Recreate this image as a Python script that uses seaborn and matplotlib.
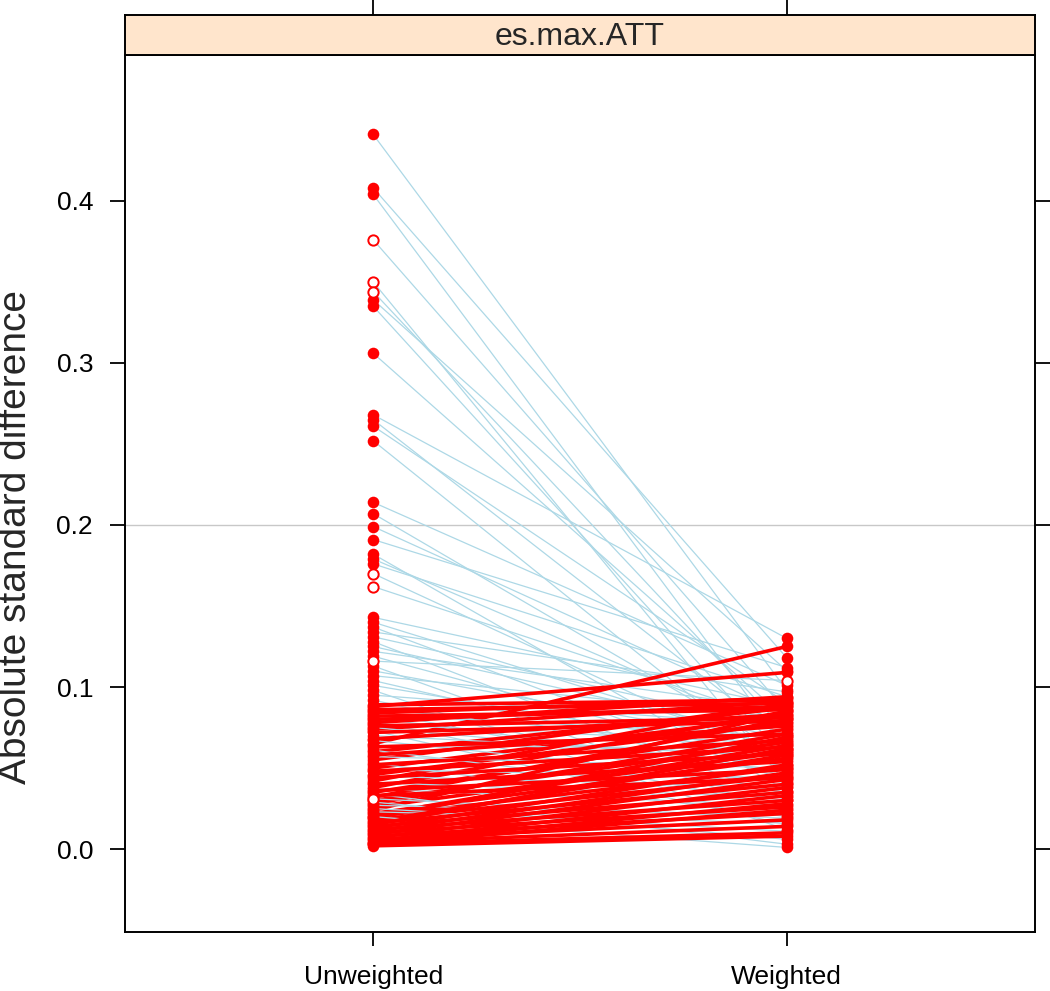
import matplotlib
matplotlib.use("Agg")
import matplotlib.pyplot as plt
import seaborn as sns
import pandas as pd

# balance summary: absolute standardized difference before / after weighting
stages = ['Unweighted', 'Weighted']

unweighted = [
    0.441, 0.408, 0.404, 0.376, 0.350, 0.344, 0.339, 0.335, 0.306, 0.268,
    0.265, 0.261, 0.252, 0.214, 0.207, 0.199, 0.191, 0.182, 0.179, 0.176,
    0.170, 0.162, 0.143, 0.140, 0.137, 0.134, 0.131, 0.128, 0.125, 0.122,
    0.119, 0.116, 0.113, 0.110, 0.107, 0.104, 0.101, 0.098, 0.095, 0.092,
    # lower block
    0.087, 0.065, 0.085, 0.088, 0.083, 0.089, 0.081, 0.086, 0.079, 0.080,
    0.077, 0.074, 0.075, 0.060, 0.073, 0.055, 0.070, 0.050, 0.067, 0.046,
    0.064, 0.042, 0.061, 0.038, 0.057, 0.035, 0.053, 0.032, 0.049, 0.030,
    0.045, 0.028, 0.041, 0.026, 0.037, 0.024, 0.034, 0.022, 0.031, 0.021,
    0.029, 0.020, 0.027, 0.019, 0.025, 0.018, 0.023, 0.017, 0.020, 0.016,
    0.015, 0.014, 0.013, 0.012, 0.011, 0.010, 0.009, 0.008, 0.007, 0.006,
    0.005, 0.004, 0.004, 0.003, 0.003, 0.002, 0.072, 0.068, 0.063, 0.058,
    0.052, 0.048, 0.044, 0.040, 0.036, 0.033, 0.084, 0.082, 0.078, 0.076,
]
weighted = [
    0.098, 0.118, 0.062, 0.085, 0.040, 0.072, 0.110, 0.055, 0.080, 0.130,
    0.066, 0.090, 0.047, 0.101, 0.058, 0.083, 0.112, 0.036, 0.070, 0.094,
    0.052, 0.078, 0.088, 0.061, 0.042, 0.097, 0.074, 0.030, 0.068, 0.086,
    0.050, 0.104, 0.022, 0.064, 0.081, 0.045, 0.058, 0.012, 0.076, 0.034,
    # lower block
    0.060, 0.125, 0.035, 0.109, 0.070, 0.092, 0.048, 0.090, 0.025, 0.088,
    0.065, 0.091, 0.052, 0.087, 0.015, 0.089, 0.057, 0.082, 0.041, 0.078,
    0.062, 0.090, 0.030, 0.085, 0.050, 0.074, 0.020, 0.080, 0.044, 0.066,
    0.038, 0.071, 0.032, 0.060, 0.027, 0.084, 0.003, 0.056, 0.019, 0.064,
    0.006, 0.050, 0.021, 0.069, 0.011, 0.045, 0.016, 0.058, 0.001, 0.040,
    0.062, 0.035, 0.052, 0.030, 0.047, 0.026, 0.043, 0.022, 0.038, 0.018,
    0.033, 0.014, 0.028, 0.010, 0.024, 0.008, 0.079, 0.083, 0.071, 0.076,
    0.067, 0.063, 0.059, 0.054, 0.049, 0.044, 0.093, 0.086, 0.094, 0.081,
]
# values whose test was not significant (drawn as open circles)
open_unweighted = [0.376, 0.350, 0.344, 0.170, 0.162, 0.116, 0.031]
open_weighted = [0.104]

rows = []
for i, (u, w) in enumerate(zip(unweighted, weighted)):
    rows.append({'var': 'v%d' % i, 'stage': 1, 'es': u, 'up': w > u})
    rows.append({'var': 'v%d' % i, 'stage': 2, 'es': w, 'up': w > u})
df = pd.DataFrame(rows)
df['sig'] = ~(((df.stage == 1) & df.es.isin(open_unweighted)) |
              ((df.stage == 2) & df.es.isin(open_weighted)))

up = df.groupby('var', sort=False)['up'].first()
pal = {k: ('#FF0000' if v else '#ADD8E6') for k, v in up.items()}
lws = {k: (2.6 if v else 0.9) for k, v in up.items()}

sns.set_style('white')
plt.rcParams['font.family'] = ['Liberation Sans', 'DejaVu Sans']

fig = plt.figure(figsize=(10.5, 9.91), dpi=100)
ax = fig.add_axes([0.119, 0.0595, 0.8667, 0.885])
strip = fig.add_axes([0.119, 0.9445, 0.8667, 0.0404])

ax.axhline(0.2, color='#C8C8C8', lw=1.0, zorder=1)
sns.lineplot(data=df, x='stage', y='es', hue='var', size='var',
             palette=pal, sizes=lws, estimator=None, sort=False,
             legend=False, ax=ax, zorder=2)
sns.scatterplot(data=df[df.sig], x='stage', y='es', color='#FF0000',
                s=70, linewidth=0, ax=ax, zorder=3)
sns.scatterplot(data=df[~df.sig], x='stage', y='es', color='white',
                edgecolor='#FF0000', s=55, linewidth=1.4, ax=ax, zorder=4)

ax.set_xlim(0.4, 2.6)
ax.set_ylim(-0.0512, 0.490)
ax.set_xticks([1, 2])
ax.set_xticklabels(stages)
ax.set_yticks([0.0, 0.1, 0.2, 0.3, 0.4])
ax.set_yticklabels(['0.0', '0.1', '0.2', '0.3', '0.4'])
ax.set_xlabel('')
ax.set_ylabel('Absolute standard difference', fontsize=28)
ax.yaxis.set_label_coords(-0.100, 0.45)
ax.tick_params(axis='both', direction='out', colors='black', width=1.3,
               labelsize=19, left=True, right=True, bottom=True, top=False,
               labelright=False, length=11, pad=12)
ax.tick_params(axis='x', pad=14, length=10)
for s in ax.spines.values():
    s.set_color('black')
    s.set_linewidth(1.4)

strip.set_facecolor('#FFE5CC')
strip.set_xlim(0.4, 2.6)
strip.set_ylim(0, 1)
strip.set_xticks([1, 2])
strip.set_yticks([])
strip.tick_params(axis='x', direction='out', top=True, bottom=False,
                  labeltop=False, labelbottom=False, length=11,
                  width=1.3, colors='black')
strip.text(1.5, 0.45, 'es.max.ATT', ha='center', va='center', fontsize=23)
for s in strip.spines.values():
    s.set_color('black')
    s.set_linewidth(1.4)

fig.savefig('out.png', dpi=100)
